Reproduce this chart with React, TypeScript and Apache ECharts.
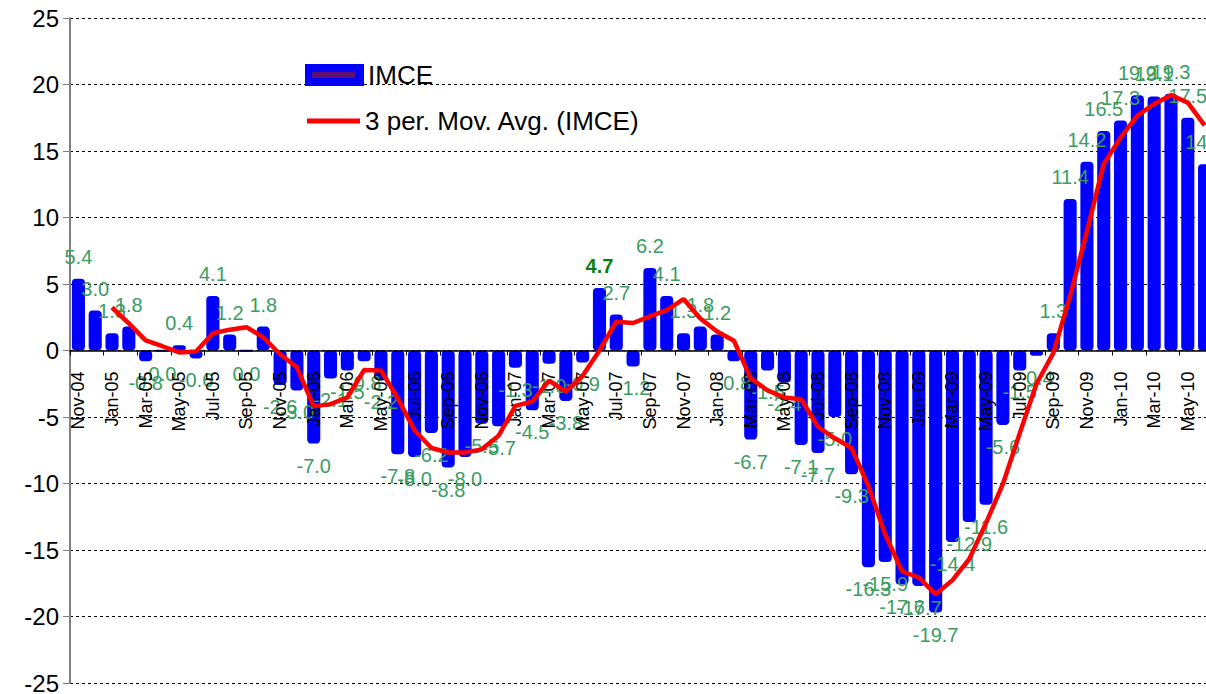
import React, { useEffect, useRef } from "react";
import * as echarts from "echarts";

const months = [
  "Nov-04", "Dec-04",
  "Jan-05", "Feb-05", "Mar-05", "Apr-05", "May-05", "Jun-05", "Jul-05", "Aug-05", "Sep-05", "Oct-05", "Nov-05", "Dec-05",
  "Jan-06", "Feb-06", "Mar-06", "Apr-06", "May-06", "Jun-06", "Jul-06", "Aug-06", "Sep-06", "Oct-06", "Nov-06", "Dec-06",
  "Jan-07", "Feb-07", "Mar-07", "Apr-07", "May-07", "Jun-07", "Jul-07", "Aug-07", "Sep-07", "Oct-07", "Nov-07", "Dec-07",
  "Jan-08", "Feb-08", "Mar-08", "Apr-08", "May-08", "Jun-08", "Jul-08", "Aug-08", "Sep-08", "Oct-08", "Nov-08", "Dec-08",
  "Jan-09", "Feb-09", "Mar-09", "Apr-09", "May-09", "Jun-09", "Jul-09", "Aug-09", "Sep-09", "Oct-09", "Nov-09", "Dec-09",
  "Jan-10", "Feb-10", "Mar-10", "Apr-10", "May-10", "Jun-10",
];

const imce = [
  5.4, 3.0,
  1.3, 1.8, -0.8, -0.04, 0.4, -0.6, 4.1, 1.2, -0.04, 1.8, -2.6, -3.0,
  -7.0, -2.1, -1.5, -0.8, -2.2, -7.8, -8.0, -6.2, -8.8, -8.0, -5.5, -5.7,
  -1.3, -4.5, -1.0, -3.8, -0.9, 4.7, 2.7, -1.2, 6.2, 4.1, 1.3, 1.8,
  1.2, -0.8, -6.7, -1.5, -2.4, -7.1, -7.7, -5.0, -9.3, -16.3, -15.9, -17.6,
  -17.7, -19.7, -14.4, -12.9, -11.6, -5.6, -1.5, -0.4, 1.3, 11.4, 14.2, 16.5,
  17.3, 19.2, 19.1, 19.3, 17.5, 14.0,
];

const yMin = -25;
const yMax = 25;
const yStep = 5;

// Excel's "3 per. Mov. Avg." trendline of the IMCE series
const movAvg = imce.map((_, i) =>
  i < 2 ? null : (imce[i - 2] + imce[i - 1] + imce[i]) / 3
);

const highlightIndex = months.indexOf("Jun-07");

const FONT = "'Liberation Sans', Arial, sans-serif";
const LABEL_GREEN = "#3a9d5f";

const GRID_TOP = 18;
const GRID_BOTTOM = 11;
const CHART_H = 694;

export default function App() {
  const ref = useRef<HTMLDivElement>(null);

  useEffect(() => {
    if (!ref.current) return;
    const chart = echarts.init(ref.current, null, { renderer: "svg" });

    const plotH = CHART_H - GRID_TOP - GRID_BOTTOM;
    // move the category axis from the bottom of the plot up to the value 0
    const zeroOffset = -(plotH * (0 - yMin)) / (yMax - yMin);

    const barData = imce.map((v, i) => ({
      value: v,
      label: {
        position: v < 0 ? "bottom" : "top",
        ...(i === highlightIndex ? { color: "#0b7d12", fontWeight: "bold" } : {}),
      },
    }));

    chart.setOption({
      animation: false,
      backgroundColor: "#ffffff",
      textStyle: { fontFamily: FONT },
      grid: {
        left: 70,
        right: -7,
        top: GRID_TOP,
        bottom: GRID_BOTTOM,
        containLabel: false,
        outerBoundsMode: "none",
      },
      legend: [
        {
          data: ["IMCE"],
          left: 305,
          top: 62,
          padding: 0,
          icon: "rect",
          itemWidth: 57,
          itemHeight: 20,
          textStyle: { fontSize: 26, color: "#000", fontFamily: FONT },
        },
        {
          data: ["3 per. Mov. Avg. (IMCE)"],
          left: 307,
          top: 108,
          padding: 0,
          icon: "rect",
          itemWidth: 53,
          itemHeight: 5,
          itemStyle: { color: "#ff0000" },
          textStyle: { fontSize: 26, color: "#000", fontFamily: FONT },
        },
      ],
      graphic: [
        {
          type: "rect",
          shape: { x: 312, y: 72, width: 43, height: 6 },
          style: { fill: "#5e1070" },
          z: 100,
        },
      ],
      xAxis: {
        type: "category",
        data: months,
        boundaryGap: true,
        z: 2,
        offset: zeroOffset,
        axisLine: { onZero: false, lineStyle: { color: "#000", width: 1.5 } },
        axisTick: { show: true, interval: 1, length: 5, lineStyle: { color: "#000" } },
        axisLabel: {
          interval: 1,
          rotate: 90,
          fontSize: 18,
          margin: 21,
          color: "#000",
          fontFamily: FONT,
        },
        splitLine: { show: false },
      },
      yAxis: {
        type: "value",
        min: yMin,
        max: yMax,
        interval: yStep,
        axisLine: { show: true, lineStyle: { color: "#7f7f7f", width: 2 } },
        axisTick: { show: true, length: 7, lineStyle: { color: "#7f7f7f" } },
        axisLabel: { fontSize: 24, color: "#000", margin: 11, fontFamily: FONT },
        splitLine: { show: true, lineStyle: { color: "#000", type: [3, 3], width: 1 } },
      },
      series: [
        {
          name: "IMCE",
          type: "bar",
          data: barData,
          barWidth: "78%",
          z: 1,
          itemStyle: { color: "#0000ff", borderColor: "#0000ff", borderWidth: 2, borderRadius: 3 },
          label: {
            show: true,
            distance: 12,
            fontSize: 20,
            color: LABEL_GREEN,
            fontFamily: FONT,
            formatter: (p: any) =>
              Math.abs(p.value) < 0.05 ? "0.0" : Number(p.value).toFixed(1),
          },
        },
        {
          name: "3 per. Mov. Avg. (IMCE)",
          type: "line",
          data: movAvg,
          symbol: "none",
          showSymbol: false,
          z: 3,
          lineStyle: { color: "#ff0000", width: 4.5 },
          itemStyle: { color: "#ff0000" },
        },
      ],
    });

    return () => chart.dispose();
  }, []);

  return (
    <div
      ref={ref}
      style={{ position: "fixed", left: 0, top: 0, width: 1206, height: 694, background: "#fff" }}
    />
  );
}
